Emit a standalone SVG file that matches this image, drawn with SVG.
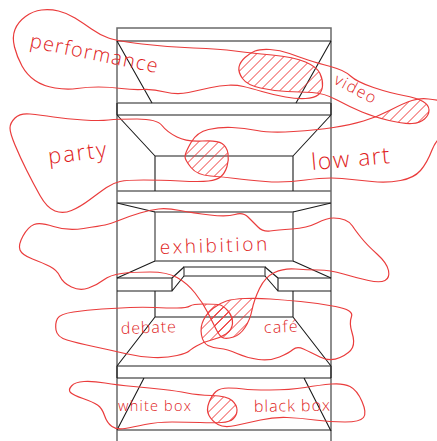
<svg xmlns="http://www.w3.org/2000/svg" xmlns:xlink="http://www.w3.org/1999/xlink" width="437" height="441" viewBox="0 0 437 441">
<style>
.k{stroke:#1a1a1a;stroke-width:1.1;fill:none}
.g{stroke:#6a6a6a;stroke-width:1.5;fill:none}
.b{stroke:#ea3c3c;stroke-width:1.2;fill:none}
.hl{stroke:#ee3c3c;stroke-width:1;fill:none}
text{font-family:"Open Sans","DejaVu Sans",sans-serif;font-weight:300;fill:#e01c1c}
</style>
<defs>
<path id="hl" class="hl" d="M290.5,0L0,290.5M300.5,0L0,300.5M310.5,0L0,310.5M320.5,0L0,320.5M330.5,0L0,330.5M340.5,0L0,340.5M350.5,0L0,350.5M360.5,0L0,360.5M370.5,0L0,370.5M380.5,0L0,380.5M390.5,0L0,390.5M400.5,0L0,400.5M410.5,0L0,410.5M420.5,0L0,420.5M430.5,0L0,430.5M440.5,0L0,440.5M450.5,0L0,450.5M460.5,0L0,460.5M470.5,0L0,470.5M480.5,0L0,480.5M490.5,0L0,490.5M500.5,0L0,500.5M510.5,0L0,510.5M520.5,0L0,520.5M530.5,0L0,530.5M540.5,0L0,540.5M550.5,0L0,550.5M560.5,0L0,560.5M570.5,0L0,570.5M580.5,0L0,580.5M590.5,0L0,590.5M600.5,0L0,600.5M610.5,0L0,610.5M620.5,0L0,620.5M630.5,0L0,630.5M640.5,0L0,640.5M650.5,0L0,650.5M660.5,0L0,660.5"/>
<path id="pPerf" d="M108.5,38 Q100,35 91.5,29 Q83,23 75,18 Q67,13 58.5,11 Q50,9 41.5,10 Q33,11 25.5,16.5 Q18,22 15,29.5 Q12,37 14.5,47 Q17,57 22,66 Q27,75 35,80.5 Q43,86 55,88 Q67,90 77,88.5 Q87,87 98.5,87 Q110,87 121.5,88.5 Q133,90 143,89.5 Q153,89 165,92 Q177,95 188.5,92.5 Q200,90 210,87.75 Q220,85.5 228.5,85.25 Q237,85 243.5,86.5 Q250,88 262,91.5 Q274,95 285.5,97 Q297,99 305.5,98.5 Q314,98 318,95 Q322,92 322.5,86 Q323,80 320,73.5 Q317,67 305.5,62 Q294,57 272,55 Q250,53 235,51 Q220,49 193.5,48 Q167,47 142,44 Q117,41 108.5,38Z"/>
<path id="pVideo" d="M239,67 Q240,62 245,57.5 Q250,53 255,51 Q260,49 270,49.5 Q280,50 289.5,53.5 Q299,57 308,60 Q317,63 330.5,66.5 Q344,70 350.5,76 Q357,82 373.5,87.5 Q390,93 403.5,95.5 Q417,98 423,101.5 Q429,105 429,110 Q429,115 424.5,119 Q420,123 412,123.5 Q404,124 389,120.5 Q374,117 362,112 Q350,107 337,100 Q324,93 312,92.5 Q300,92 287,91.5 Q274,91 260.5,88 Q247,85 242.5,78.5 Q238,72 239,67Z"/>
<path id="pParty" d="M15,118 Q20,113 30,114 Q40,115 53.5,117 Q67,119 83.5,120 Q100,121 108.5,120 Q117,119 137,119 Q157,119 162,125.5 Q167,132 177,137 Q187,142 202,141 Q217,140 222,143.5 Q227,147 228,153.5 Q229,160 227,166.5 Q225,173 221,176.5 Q217,180 208.5,181 Q200,182 180,181 Q160,180 143.5,180 Q127,180 120,181.5 Q113,183 106.5,187.5 Q100,192 90,199.5 Q80,207 71.5,210.5 Q63,214 55,211 Q47,208 40,195.5 Q33,183 26.5,170 Q20,157 15,145 Q10,133 10,128 Q10,123 15,118Z"/>
<path id="pLow" d="M191,142.5 Q197,132 208.5,129.5 Q220,127 232,127.5 Q244,128 257,130.5 Q270,133 293.5,131.5 Q317,130 333.5,127.5 Q350,125 363.5,121 Q377,117 390.5,110 Q404,103 412,100.5 Q420,98 428.5,99 Q437,100 448,102 Q460,105 460,117 Q460,130 448,133 Q437,137 432,150 Q427,163 420.5,170.5 Q414,178 400.5,180.5 Q387,183 372,181.5 Q357,180 342,178.5 Q327,177 305.5,180 Q284,183 265.5,181.5 Q247,180 235.5,178.5 Q224,177 210.5,176 Q197,175 191,167.5 Q185,160 185,156.5 Q185,153 191,142.5Z"/>
<path id="pExhib" d="M105,225 Q110,224 120,220 Q130,216 140,213 Q150,210 158.5,209 Q167,208 180,210.5 Q193,213 210,215 Q227,217 235,214.5 Q243,212 248,217 Q253,222 258,227 Q263,232 270,231 Q277,230 292,229 Q307,228 317,223 Q327,218 333.5,218 Q340,218 345,220 Q350,222 352.5,226 Q355,230 361,237.5 Q367,245 377,254 Q387,263 388.5,270.5 Q390,278 385,280.5 Q380,283 368.5,280.5 Q357,278 343.5,274 Q330,270 318.5,270 Q307,270 295.5,269 Q284,268 274.5,272.5 Q265,277 259.5,288.5 Q254,300 252,310 Q250,320 245,327.5 Q240,335 233.5,337 Q227,339 223.5,338 Q220,337 216.5,330 Q213,323 208,313 Q203,303 195,293 Q187,283 177,277.5 Q167,272 150,272 Q133,272 121.5,273.5 Q110,275 103.5,280 Q97,285 88.5,288 Q80,291 71.5,287 Q63,283 60,276.5 Q57,270 50,266.5 Q43,263 32.5,259 Q22,255 20,250 Q18,245 23,236 Q28,227 34,224.5 Q40,222 53.5,226.5 Q67,231 83.5,228.5 Q100,226 105,225Z"/>
<path id="pDebate" d="M57.5,318.5 Q60,314 73.5,312 Q87,310 102,309 Q117,308 130,307.5 Q143,307 155,307.5 Q167,308 177,308 Q187,308 190,306 Q193,304 203,304 Q213,304 218,304.5 Q223,305 228,311 Q233,317 232.5,323.5 Q232,330 226,334 Q220,338 211.5,340 Q203,342 196.5,346 Q190,350 188.5,351.5 Q187,353 177,355.5 Q167,358 153.5,357.5 Q140,357 125,353.5 Q110,350 93.5,346.5 Q77,343 67,340 Q57,337 56,330 Q55,323 57.5,318.5Z"/>
<path id="pCafe" d="M203.5,320 Q207,313 213.5,308 Q220,303 226.5,301 Q233,299 245,298.5 Q257,298 270.5,299 Q284,300 300.5,301.5 Q317,303 335.5,306.5 Q354,310 351.5,316.5 Q349,323 352,332.5 Q355,342 352.5,347.5 Q350,353 340,357.5 Q330,362 320,357 Q310,352 303.5,349 Q297,346 293,349.5 Q289,353 279.5,357 Q270,361 258.5,359.5 Q247,358 237,353.5 Q227,349 220,348.5 Q213,348 208,345.5 Q203,343 201.5,335 Q200,327 203.5,320Z"/>
<path id="pWhite" d="M71.5,386 Q75,382 84,381.5 Q93,381 105,383 Q117,385 133.5,386.5 Q150,388 163.5,389.5 Q177,391 187,393 Q197,395 212,395.5 Q227,396 232,400.5 Q237,405 237,410 Q237,415 233.5,418.5 Q230,422 221.5,422.5 Q213,423 200,422.5 Q187,422 172,422 Q157,422 145,424.5 Q133,427 125,428.5 Q117,430 112,426.5 Q107,423 104.5,415.5 Q102,408 97.5,405 Q93,402 83,398.5 Q73,395 70.5,392.5 Q68,390 71.5,386Z"/>
<path id="pBlack" d="M209,402.5 Q212,395 216,391.5 Q220,388 228.5,388 Q237,388 243.5,389 Q250,390 270,390 Q290,390 305,387.5 Q320,385 331.5,384 Q343,383 350,386.5 Q357,390 362,401.5 Q367,413 363.5,417.5 Q360,422 345,422 Q330,422 315,420 Q300,418 287,417.5 Q274,417 260.5,420 Q247,423 235.5,425.5 Q224,428 218,424.5 Q212,421 209,415.5 Q206,410 209,402.5Z"/>
<clipPath id="cPerf"><use href="#pPerf"/></clipPath>
<clipPath id="cVideo"><use href="#pVideo"/></clipPath>
<clipPath id="cParty"><use href="#pParty"/></clipPath>
<clipPath id="cLow"><use href="#pLow"/></clipPath>
<clipPath id="cExhib"><use href="#pExhib"/></clipPath>
<clipPath id="cCafe"><use href="#pCafe"/></clipPath>
<clipPath id="cDebate"><use href="#pDebate"/></clipPath>
<clipPath id="cWhite"><use href="#pWhite"/></clipPath>
<clipPath id="cBlack"><use href="#pBlack"/></clipPath>
</defs>
<g id="building">
<path class="g" d="M117,441V28H331V441"/>
<path class="g" d="M117,103H331M117,191H331M117,203H331M155,212H293V261H155ZM184,267H265V276H184ZM117,366H331M117,430H331"/>
<path class="k" d="M117,41H331M117,41L152,103M331,41L296,103M117,103V115M331,103V115M117,115H331M117,115L155,156M331,115L293,156M155,191V156H293V191M117,203L155,212M331,203L293,212M155,261L117,278M293,261L331,278"/>
<path class="k" d="M117,278H172V291H117M172,278L184,267M172,291L184,276M331,278H278V291H331M265,267L278,278M265,276L278,291M155,291V317H293V291M155,317L117,366M293,317L331,366M117,366V378M331,366V378M117,378H331M144,378L117,430M304,378L331,431"/>
</g>
<g id="overlaps">
<g clip-path="url(#cPerf)"><g clip-path="url(#cVideo)"><use href="#hl"/></g></g>
<g clip-path="url(#cLow)"><g clip-path="url(#cVideo)"><use href="#hl"/></g></g>
<g clip-path="url(#cLow)"><g clip-path="url(#cParty)"><use href="#hl"/></g></g>
<g clip-path="url(#cCafe)"><g clip-path="url(#cExhib)"><use href="#hl"/></g></g>
<g clip-path="url(#cDebate)"><g clip-path="url(#cExhib)"><use href="#hl"/></g></g>
<g clip-path="url(#cDebate)"><g clip-path="url(#cCafe)"><use href="#hl"/></g></g>
<g clip-path="url(#cWhite)"><g clip-path="url(#cBlack)"><use href="#hl"/></g></g>
</g>
<g id="performance"><use href="#pPerf" class="b"/><text transform="translate(29,47) rotate(11.5)" font-size="20" letter-spacing="1.3">performance</text></g>
<g id="video"><use href="#pVideo" class="b"/><text transform="translate(333,83) rotate(28)" font-size="16" letter-spacing="1.5">video</text></g>
<g id="party"><use href="#pParty" class="b"/><text transform="translate(49,164) rotate(-7)" font-size="22" letter-spacing="1.9">party</text></g>
<g id="low-art"><use href="#pLow" class="b"/><text transform="translate(312,170) rotate(-5)" font-size="23" letter-spacing="1.4">low art</text></g>
<g id="exhibition"><use href="#pExhib" class="b"/><text transform="translate(160,254) rotate(-2)" font-size="19" letter-spacing="2.6">exhibition</text></g>
<g id="debate"><use href="#pDebate" class="b"/><text transform="translate(121,334) rotate(-2)" font-size="16" letter-spacing="0.9">debate</text></g>
<g id="cafe"><use href="#pCafe" class="b"/><text transform="translate(264,333) rotate(-2)" font-size="16" letter-spacing="1.4">café</text></g>
<g id="white-box"><use href="#pWhite" class="b"/><text x="118" y="411" font-size="14.5" letter-spacing="1.2">white box</text></g>
<g id="black-box"><use href="#pBlack" class="b"/><text transform="translate(254,412) rotate(-1)" font-size="16" letter-spacing="1">black box</text></g>
</svg>
